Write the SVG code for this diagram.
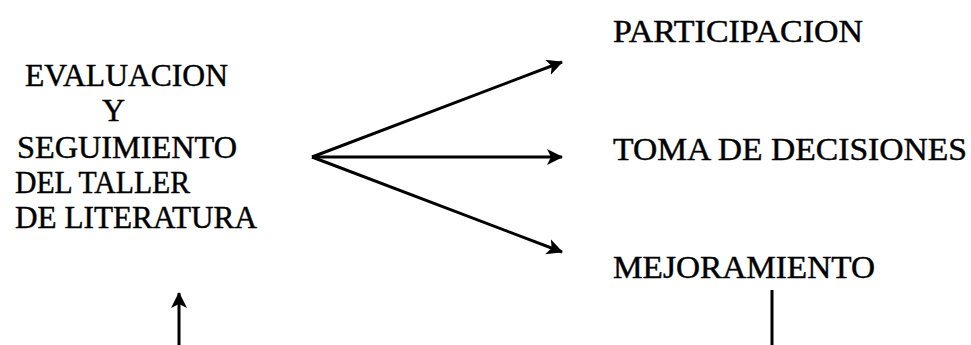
<svg xmlns="http://www.w3.org/2000/svg" width="971" height="345" viewBox="0 0 971 345">
<style>
.t{font-family:"Liberation Serif","Times New Roman",serif;font-size:32px;fill:#000;stroke:#000;stroke-width:0.45;}
.c{stroke:#000;stroke-width:3;fill:none;}
</style>
<defs>
<marker id="ah" markerUnits="userSpaceOnUse" markerWidth="20" markerHeight="20" refX="15" refY="8" orient="auto">
<path d="M0,0 L16,8 L0,16 L4,8 z" fill="#000"/>
</marker>
</defs>
<rect width="971" height="345" fill="#fff"/>
<g id="node-evaluacion">
<text class="t" x="25" y="86" textLength="203" lengthAdjust="spacingAndGlyphs">EVALUACION</text>
<text class="t" x="102" y="121">Y</text>
<text class="t" x="17" y="158" textLength="220" lengthAdjust="spacingAndGlyphs">SEGUIMIENTO</text>
<text class="t" x="15" y="193" textLength="175" lengthAdjust="spacingAndGlyphs">DEL TALLER</text>
<text class="t" x="15" y="228" textLength="242" lengthAdjust="spacingAndGlyphs">DE LITERATURA</text>
</g>
<g id="node-participacion">
<text class="t" x="613" y="42" textLength="250" lengthAdjust="spacingAndGlyphs">PARTICIPACION</text>
</g>
<g id="node-toma">
<text class="t" x="613" y="160" textLength="354" lengthAdjust="spacingAndGlyphs">TOMA DE DECISIONES</text>
</g>
<g id="node-mejoramiento">
<text class="t" x="613" y="278" textLength="262" lengthAdjust="spacingAndGlyphs">MEJORAMIENTO</text>
</g>
<g id="connectors">
<line class="c" x1="312" y1="157" x2="562" y2="62" marker-end="url(#ah)"/>
<line class="c" x1="312" y1="157" x2="562" y2="157" marker-end="url(#ah)"/>
<line class="c" x1="312" y1="157" x2="562" y2="252" marker-end="url(#ah)"/>
<line class="c" x1="179" y1="345" x2="179" y2="293" marker-end="url(#ah)"/>
<line class="c" x1="772" y1="290" x2="772" y2="345"/>
</g>
</svg>
